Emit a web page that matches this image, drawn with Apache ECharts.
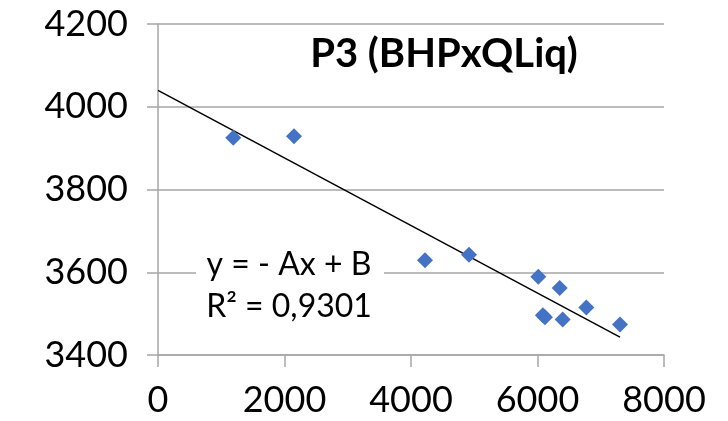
<!DOCTYPE html>
<html>
<head>
<meta charset="utf-8">
<script src="https://cdn.jsdelivr.net/npm/echarts@6/dist/echarts.min.js"></script>
<style>
html,body{margin:0;padding:0;background:#fff;}
#chart{width:728px;height:421px;}
</style>
</head>
<body>
<div id="chart"></div>
<script>
// Data
const qLiq = [1190, 2150, 4221, 4917, 6013, 6351, 6085, 6118, 6398, 6772, 7304];
const bhp  = [3925, 3929, 3629, 3642, 3589, 3562, 3496, 3491, 3486, 3515, 3474];
const xTicks = [0, 2000, 4000, 6000, 8000];
const yTicks = [3400, 3600, 3800, 4000, 4200];
const titleText = 'P3 (BHPxQLiq)';
const eqLines = ['y = - Ax + B', 'R\u00b2 = 0,9301'];

// Linear least-squares trendline (as in spreadsheet trendline)
const n = qLiq.length;
const mx = qLiq.reduce((a, b) => a + b, 0) / n;
const my = bhp.reduce((a, b) => a + b, 0) / n;
let sxy = 0, sxx = 0;
for (let i = 0; i < n; i++) { sxy += (qLiq[i] - mx) * (bhp[i] - my); sxx += (qLiq[i] - mx) ** 2; }
const slope = sxy / sxx;
const icpt = my - slope * mx;
const xEnd = Math.max(...qLiq);
const trend = [[0, icpt], [xEnd, icpt + slope * xEnd]];

const FONT = 'Lato';
const chart = echarts.init(document.getElementById('chart'), null, { renderer: 'canvas' });
chart.setOption({
  animation: false,
  backgroundColor: '#fff',
  grid: { left: 158, right: 64, top: 24, bottom: 66, containLabel: false },
  xAxis: {
    type: 'value', min: xTicks[0], max: xTicks[xTicks.length - 1], interval: 2000,
    axisLine: { show: true, lineStyle: { color: '#A6A6A6', width: 1.5 } },
    axisTick: { show: true, length: 12, lineStyle: { color: '#A6A6A6', width: 1.5 } },
    splitLine: { show: false },
    axisLabel: { margin: 27, color: '#000', fontFamily: FONT, fontSize: 36, formatter: v => String(v) }
  },
  yAxis: {
    type: 'value', min: yTicks[0], max: yTicks[yTicks.length - 1], interval: 200,
    axisLine: { show: true, lineStyle: { color: '#A6A6A6', width: 1.5 } },
    axisTick: { show: true, length: 11, lineStyle: { color: '#A6A6A6', width: 1.5 } },
    splitLine: { show: true, lineStyle: { color: '#A6A6A6', width: 1.5 } },
    axisLabel: { margin: 30, color: '#000', fontFamily: FONT, fontSize: 36, formatter: v => String(v) }
  },
  series: [
    {
      type: 'line', data: trend, showSymbol: false, symbol: 'none',
      lineStyle: { color: '#000', width: 1.5 }, z: 2
    },
    {
      type: 'scatter', data: qLiq.map((x, i) => [x, bhp[i]]),
      symbol: 'diamond', symbolSize: [16, 16],
      itemStyle: { color: '#4472C4', opacity: 1 }, z: 3
    }
  ],
  graphic: [
    { type: 'rect', shape: { x: 196, y: 242, width: 188, height: 84 }, style: { fill: '#fff' }, z: 10 },
    { type: 'text', x: 289, y: 265, z: 11,
      style: { text: eqLines[0], fill: '#000', font: '32px ' + FONT, textAlign: 'center', textVerticalAlign: 'middle' } },
    { type: 'text', x: 289, y: 307, z: 11,
      style: { text: eqLines[1], fill: '#000', font: '32px ' + FONT, textAlign: 'center', textVerticalAlign: 'middle' } },
    { type: 'text', x: 444, y: 54, z: 11,
      style: { text: titleText, fill: '#000', font: 'bold 40px ' + FONT, textAlign: 'center', textVerticalAlign: 'middle' } }
  ]
});
</script>
</body>
</html>
